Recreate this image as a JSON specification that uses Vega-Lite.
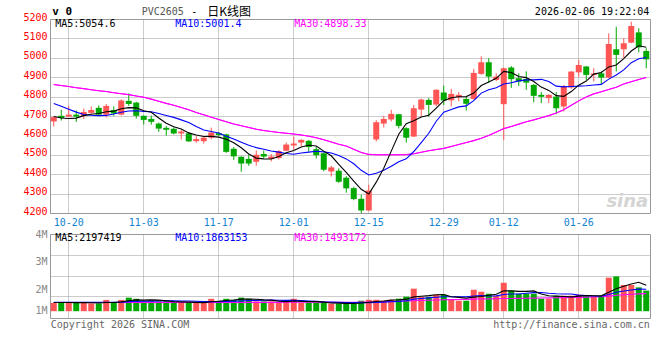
{
"$schema": "https://vega.github.io/schema/vega-lite/v6.json",
"padding": {"left": 22, "top": 5, "right": 0, "bottom": 0},
"background": "white",
"bounds": "flush",
"spacing": 21,
"config": {
 "view": {"stroke": "#999", "strokeWidth": 1},
 "axis": {"gridColor": "#999", "gridDash": [1, 1], "gridWidth": 1, "gridOpacity": 1, "tickSize": 0, "domain": false, "labelFont": "DejaVu Sans Mono", "labelFontSize": 10, "labelOverlap": false},
 "text": {"font": "DejaVu Sans Mono", "fontSize": 10}
},
"datasets": {"k": [
{"d":"2025-10-16","o":4672,"h":4697,"l":4646,"c":4694,"v":0.70,"m5":4697,"m10":4765,"m30":4862,"vm5":0.74,"vm10":0.76,"vm30":0.74},
{"d":"2025-10-17","o":4701,"h":4732,"l":4677,"c":4690,"v":0.78,"m5":4690,"m10":4750,"m30":4857,"vm5":0.74,"vm10":0.76,"vm30":0.74},
{"d":"2025-10-20","o":4697,"h":4752,"l":4695,"c":4707,"v":0.78,"m5":4687,"m10":4735,"m30":4852,"vm5":0.74,"vm10":0.76,"vm30":0.74},
{"d":"2025-10-21","o":4707,"h":4728,"l":4670,"c":4697,"v":0.70,"m5":4689,"m10":4720,"m30":4846,"vm5":0.73,"vm10":0.76,"vm30":0.74},
{"d":"2025-10-22","o":4701,"h":4738,"l":4685,"c":4721,"v":0.70,"m5":4702,"m10":4708,"m30":4841,"vm5":0.73,"vm10":0.76,"vm30":0.74},
{"d":"2025-10-23","o":4716,"h":4749,"l":4712,"c":4731,"v":0.66,"m5":4709,"m10":4704,"m30":4835,"vm5":0.72,"vm10":0.76,"vm30":0.74},
{"d":"2025-10-24","o":4742,"h":4754,"l":4703,"c":4707,"v":0.66,"m5":4713,"m10":4702,"m30":4830,"vm5":0.70,"vm10":0.76,"vm30":0.74},
{"d":"2025-10-27","o":4707,"h":4762,"l":4692,"c":4752,"v":0.96,"m5":4722,"m10":4703,"m30":4826,"vm5":0.74,"vm10":0.76,"vm30":0.74},
{"d":"2025-10-28","o":4731,"h":4749,"l":4701,"c":4713,"v":0.70,"m5":4725,"m10":4710,"m30":4820,"vm5":0.74,"vm10":0.76,"vm30":0.74},
{"d":"2025-10-29","o":4707,"h":4786,"l":4703,"c":4780,"v":0.96,"m5":4737,"m10":4719,"m30":4815,"vm5":0.79,"vm10":0.76,"vm30":0.74},
{"d":"2025-10-30","o":4778,"h":4817,"l":4752,"c":4762,"v":1.15,"m5":4743,"m10":4726,"m30":4810,"vm5":0.89,"vm10":0.81,"vm30":0.74},
{"d":"2025-10-31","o":4769,"h":4773,"l":4687,"c":4701,"v":1.05,"m5":4742,"m10":4727,"m30":4803,"vm5":0.96,"vm10":0.83,"vm30":0.75},
{"d":"2025-11-03","o":4701,"h":4703,"l":4656,"c":4680,"v":0.83,"m5":4727,"m10":4724,"m30":4797,"vm5":0.94,"vm10":0.84,"vm30":0.75},
{"d":"2025-11-04","o":4685,"h":4702,"l":4656,"c":4670,"v":0.83,"m5":4719,"m10":4722,"m30":4787,"vm5":0.96,"vm10":0.85,"vm30":0.75},
{"d":"2025-11-05","o":4661,"h":4666,"l":4618,"c":4635,"v":0.83,"m5":4690,"m10":4713,"m30":4776,"vm5":0.94,"vm10":0.86,"vm30":0.75},
{"d":"2025-11-06","o":4639,"h":4649,"l":4599,"c":4629,"v":0.88,"m5":4663,"m10":4703,"m30":4765,"vm5":0.88,"vm10":0.89,"vm30":0.75},
{"d":"2025-11-07","o":4634,"h":4641,"l":4605,"c":4610,"v":0.70,"m5":4645,"m10":4693,"m30":4755,"vm5":0.81,"vm10":0.89,"vm30":0.75},
{"d":"2025-11-10","o":4610,"h":4627,"l":4579,"c":4620,"v":0.70,"m5":4633,"m10":4680,"m30":4744,"vm5":0.79,"vm10":0.86,"vm30":0.75},
{"d":"2025-11-11","o":4611,"h":4617,"l":4567,"c":4569,"v":0.75,"m5":4613,"m10":4666,"m30":4732,"vm5":0.77,"vm10":0.87,"vm30":0.75},
{"d":"2025-11-12","o":4570,"h":4598,"l":4562,"c":4581,"v":0.70,"m5":4602,"m10":4646,"m30":4718,"vm5":0.75,"vm10":0.84,"vm30":0.75},
{"d":"2025-11-13","o":4570,"h":4594,"l":4558,"c":4588,"v":0.80,"m5":4594,"m10":4628,"m30":4706,"vm5":0.73,"vm10":0.81,"vm30":0.75},
{"d":"2025-11-14","o":4588,"h":4640,"l":4580,"c":4615,"v":1.05,"m5":4595,"m10":4620,"m30":4694,"vm5":0.80,"vm10":0.81,"vm30":0.75},
{"d":"2025-11-17","o":4612,"h":4618,"l":4596,"c":4602,"v":0.88,"m5":4591,"m10":4612,"m30":4682,"vm5":0.84,"vm10":0.81,"vm30":0.75},
{"d":"2025-11-18","o":4605,"h":4608,"l":4510,"c":4515,"v":1.05,"m5":4580,"m10":4596,"m30":4670,"vm5":0.90,"vm10":0.83,"vm30":0.75},
{"d":"2025-11-19","o":4531,"h":4540,"l":4474,"c":4492,"v":0.96,"m5":4562,"m10":4582,"m30":4659,"vm5":0.95,"vm10":0.85,"vm30":0.75},
{"d":"2025-11-20","o":4490,"h":4492,"l":4413,"c":4455,"v":1.15,"m5":4536,"m10":4565,"m30":4650,"vm5":1.02,"vm10":0.87,"vm30":0.75},
{"d":"2025-11-21","o":4479,"h":4500,"l":4443,"c":4455,"v":1.05,"m5":4504,"m10":4549,"m30":4641,"vm5":1.02,"vm10":0.91,"vm30":0.75},
{"d":"2025-11-24","o":4464,"h":4522,"l":4443,"c":4500,"v":0.83,"m5":4483,"m10":4537,"m30":4632,"vm5":1.01,"vm10":0.92,"vm30":0.75},
{"d":"2025-11-25","o":4504,"h":4522,"l":4483,"c":4491,"v":0.83,"m5":4479,"m10":4529,"m30":4625,"vm5":0.96,"vm10":0.93,"vm30":0.75},
{"d":"2025-11-26","o":4479,"h":4504,"l":4466,"c":4491,"v":0.83,"m5":4478,"m10":4520,"m30":4620,"vm5":0.94,"vm10":0.94,"vm30":0.75},
{"d":"2025-11-27","o":4483,"h":4524,"l":4476,"c":4519,"v":0.70,"m5":4491,"m10":4514,"m30":4615,"vm5":0.85,"vm10":0.93,"vm30":0.75},
{"d":"2025-11-28","o":4521,"h":4563,"l":4519,"c":4553,"v":0.88,"m5":4511,"m10":4507,"m30":4611,"vm5":0.81,"vm10":0.92,"vm30":0.76},
{"d":"2025-12-01","o":4548,"h":4594,"l":4526,"c":4558,"v":1.05,"m5":4522,"m10":4503,"m30":4607,"vm5":0.86,"vm10":0.93,"vm30":0.76},
{"d":"2025-12-02","o":4563,"h":4580,"l":4545,"c":4577,"v":0.70,"m5":4540,"m10":4509,"m30":4602,"vm5":0.83,"vm10":0.90,"vm30":0.76},
{"d":"2025-12-03","o":4572,"h":4577,"l":4517,"c":4540,"v":0.70,"m5":4549,"m10":4514,"m30":4596,"vm5":0.81,"vm10":0.87,"vm30":0.76},
{"d":"2025-12-04","o":4529,"h":4540,"l":4481,"c":4498,"v":0.70,"m5":4545,"m10":4518,"m30":4588,"vm5":0.81,"vm10":0.83,"vm30":0.76},
{"d":"2025-12-05","o":4508,"h":4510,"l":4415,"c":4423,"v":0.70,"m5":4519,"m10":4515,"m30":4578,"vm5":0.77,"vm10":0.79,"vm30":0.76},
{"d":"2025-12-08","o":4414,"h":4443,"l":4388,"c":4435,"v":0.64,"m5":4495,"m10":4509,"m30":4566,"vm5":0.69,"vm10":0.77,"vm30":0.76},
{"d":"2025-12-09","o":4418,"h":4430,"l":4355,"c":4361,"v":0.64,"m5":4451,"m10":4496,"m30":4554,"vm5":0.68,"vm10":0.75,"vm30":0.76},
{"d":"2025-12-10","o":4382,"h":4390,"l":4305,"c":4327,"v":0.64,"m5":4409,"m10":4479,"m30":4545,"vm5":0.66,"vm10":0.74,"vm30":0.76},
{"d":"2025-12-11","o":4328,"h":4335,"l":4266,"c":4272,"v":0.64,"m5":4364,"m10":4454,"m30":4528,"vm5":0.65,"vm10":0.73,"vm30":0.76},
{"d":"2025-12-12","o":4273,"h":4294,"l":4196,"c":4213,"v":0.89,"m5":4322,"m10":4420,"m30":4512,"vm5":0.69,"vm10":0.73,"vm30":0.77},
{"d":"2025-12-15","o":4213,"h":4346,"l":4210,"c":4316,"v":0.97,"m5":4298,"m10":4396,"m30":4502,"vm5":0.76,"vm10":0.72,"vm30":0.78},
{"d":"2025-12-16","o":4579,"h":4678,"l":4569,"c":4668,"v":0.97,"m5":4359,"m10":4405,"m30":4500,"vm5":0.82,"vm10":0.75,"vm30":0.79},
{"d":"2025-12-17","o":4661,"h":4701,"l":4641,"c":4685,"v":0.89,"m5":4431,"m10":4420,"m30":4500,"vm5":0.87,"vm10":0.77,"vm30":0.80},
{"d":"2025-12-18","o":4682,"h":4732,"l":4672,"c":4711,"v":0.97,"m5":4519,"m10":4441,"m30":4500,"vm5":0.94,"vm10":0.80,"vm30":0.82},
{"d":"2025-12-19","o":4709,"h":4711,"l":4636,"c":4649,"v":1.06,"m5":4606,"m10":4464,"m30":4500,"vm5":0.97,"vm10":0.83,"vm30":0.84},
{"d":"2025-12-22","o":4637,"h":4642,"l":4563,"c":4588,"v":1.23,"m5":4660,"m10":4479,"m30":4501,"vm5":1.02,"vm10":0.89,"vm30":0.86},
{"d":"2025-12-23","o":4594,"h":4757,"l":4592,"c":4740,"v":1.91,"m5":4675,"m10":4517,"m30":4505,"vm5":1.21,"vm10":1.02,"vm30":0.89},
{"d":"2025-12-24","o":4733,"h":4790,"l":4697,"c":4785,"v":1.20,"m5":4695,"m10":4563,"m30":4513,"vm5":1.27,"vm10":1.07,"vm30":0.91},
{"d":"2025-12-25","o":4783,"h":4792,"l":4697,"c":4757,"v":1.20,"m5":4704,"m10":4611,"m30":4521,"vm5":1.32,"vm10":1.13,"vm30":0.93},
{"d":"2025-12-26","o":4759,"h":4838,"l":4750,"c":4835,"v":1.40,"m5":4741,"m10":4673,"m30":4527,"vm5":1.39,"vm10":1.18,"vm30":0.95},
{"d":"2025-12-29","o":4821,"h":4857,"l":4757,"c":4780,"v":1.40,"m5":4779,"m10":4720,"m30":4533,"vm5":1.42,"vm10":1.22,"vm30":0.97},
{"d":"2025-12-30","o":4781,"h":4840,"l":4749,"c":4814,"v":0.97,"m5":4794,"m10":4734,"m30":4543,"vm5":1.23,"vm10":1.22,"vm30":0.98},
{"d":"2025-12-31","o":4797,"h":4823,"l":4775,"c":4809,"v":0.89,"m5":4799,"m10":4747,"m30":4553,"vm5":1.17,"vm10":1.22,"vm30":0.99},
{"d":"2026-01-05","o":4788,"h":4800,"l":4728,"c":4763,"v":0.89,"m5":4800,"m10":4752,"m30":4563,"vm5":1.11,"vm10":1.22,"vm30":1.00},
{"d":"2026-01-06","o":4788,"h":4943,"l":4785,"c":4922,"v":1.82,"m5":4818,"m10":4779,"m30":4573,"vm5":1.19,"vm10":1.29,"vm30":1.02},
{"d":"2026-01-07","o":4917,"h":5008,"l":4912,"c":4977,"v":1.65,"m5":4857,"m10":4818,"m30":4585,"vm5":1.24,"vm10":1.33,"vm30":1.03},
{"d":"2026-01-08","o":4977,"h":4998,"l":4872,"c":4903,"v":1.48,"m5":4875,"m10":4835,"m30":4600,"vm5":1.35,"vm10":1.29,"vm30":1.04},
{"d":"2026-01-09","o":4886,"h":4920,"l":4880,"c":4903,"v":1.31,"m5":4894,"m10":4846,"m30":4617,"vm5":1.43,"vm10":1.30,"vm30":1.05},
{"d":"2026-01-12","o":4761,"h":4950,"l":4577,"c":4946,"v":2.41,"m5":4930,"m10":4865,"m30":4635,"vm5":1.73,"vm10":1.42,"vm30":1.07},
{"d":"2026-01-13","o":4950,"h":4957,"l":4845,"c":4890,"v":1.74,"m5":4924,"m10":4871,"m30":4646,"vm5":1.72,"vm10":1.46,"vm30":1.08},
{"d":"2026-01-14","o":4895,"h":4920,"l":4855,"c":4878,"v":1.48,"m5":4904,"m10":4881,"m30":4658,"vm5":1.68,"vm10":1.46,"vm30":1.09},
{"d":"2026-01-15","o":4891,"h":4930,"l":4835,"c":4872,"v":1.48,"m5":4898,"m10":4886,"m30":4670,"vm5":1.68,"vm10":1.52,"vm30":1.10},
{"d":"2026-01-16","o":4860,"h":4865,"l":4771,"c":4804,"v":1.48,"m5":4878,"m10":4886,"m30":4680,"vm5":1.72,"vm10":1.57,"vm30":1.11},
{"d":"2026-01-19","o":4809,"h":4823,"l":4766,"c":4799,"v":1.06,"m5":4849,"m10":4889,"m30":4691,"vm5":1.45,"vm10":1.59,"vm30":1.12},
{"d":"2026-01-20","o":4792,"h":4812,"l":4766,"c":4809,"v":1.06,"m5":4832,"m10":4878,"m30":4702,"vm5":1.31,"vm10":1.52,"vm30":1.13},
{"d":"2026-01-21","o":4800,"h":4823,"l":4709,"c":4740,"v":1.31,"m5":4805,"m10":4854,"m30":4715,"vm5":1.28,"vm10":1.48,"vm30":1.14},
{"d":"2026-01-22","o":4749,"h":4860,"l":4723,"c":4855,"v":1.31,"m5":4801,"m10":4850,"m30":4732,"vm5":1.24,"vm10":1.46,"vm30":1.15},
{"d":"2026-01-23","o":4847,"h":4932,"l":4840,"c":4929,"v":1.31,"m5":4826,"m10":4852,"m30":4755,"vm5":1.21,"vm10":1.46,"vm30":1.16},
{"d":"2026-01-26","o":4925,"h":4989,"l":4903,"c":4963,"v":1.40,"m5":4859,"m10":4854,"m30":4778,"vm5":1.28,"vm10":1.36,"vm30":1.17},
{"d":"2026-01-27","o":4955,"h":4958,"l":4886,"c":4912,"v":1.26,"m5":4880,"m10":4856,"m30":4798,"vm5":1.32,"vm10":1.32,"vm30":1.18},
{"d":"2026-01-28","o":4912,"h":4946,"l":4878,"c":4919,"v":1.26,"m5":4916,"m10":4860,"m30":4814,"vm5":1.31,"vm10":1.29,"vm30":1.20},
{"d":"2026-01-29","o":4920,"h":4929,"l":4864,"c":4898,"v":1.26,"m5":4924,"m10":4863,"m30":4825,"vm5":1.30,"vm10":1.27,"vm30":1.22},
{"d":"2026-01-30","o":4898,"h":5126,"l":4895,"c":5071,"v":2.84,"m5":4953,"m10":4890,"m30":4837,"vm5":1.60,"vm10":1.41,"vm30":1.28},
{"d":"2026-02-02","o":5044,"h":5160,"l":4929,"c":5015,"v":2.95,"m5":4963,"m10":4911,"m30":4848,"vm5":1.91,"vm10":1.60,"vm30":1.35},
{"d":"2026-02-03","o":5044,"h":5101,"l":5001,"c":5075,"v":2.22,"m5":4996,"m10":4938,"m30":4865,"vm5":2.11,"vm10":1.71,"vm30":1.40},
{"d":"2026-02-04","o":5078,"h":5186,"l":5075,"c":5164,"v":2.22,"m5":5035,"m10":4975,"m30":4877,"vm5":2.30,"vm10":1.80,"vm30":1.44},
{"d":"2026-02-05","o":5131,"h":5152,"l":5028,"c":5054,"v":2.02,"m5":5062,"m10":4995,"m30":4888,"vm5":2.45,"vm10":1.87,"vm30":1.47},
{"d":"2026-02-06","o":5035,"h":5049,"l":4946,"c":4992,"v":1.75,"m5":5054.6,"m10":5001.4,"m30":4898.33,"vm5":2.197,"vm10":1.863,"vm30":1.493}
]},
"vconcat": [
{
 "width": 600, "height": 194,
 "data": {"name": "k"},
 "encoding": {"x": {"field": "d", "type": "ordinal", "scale": {"paddingInner": 0, "paddingOuter": 0},
   "axis": {"title": null, "values": ["2025-10-20","2025-11-03","2025-11-17","2025-12-01","2025-12-15","2025-12-29","2026-01-12","2026-01-26"], "labelExpr": "substring(datum.value, 5)", "labelColor": "#1084d0", "labelAngle": 0, "labelPadding": 4, "grid": true, "bandPosition": 0.5, "labelOverlap": false}}},
 "layer": [
  {"mark": {"type": "line", "clip": true, "strokeWidth": 1, "color": "#ff00ff"},
   "encoding": {"y": {"field": "m30", "type": "quantitative", "scale": {"domain": [4200, 5200], "nice": false, "zero": false},
      "axis": {"title": null, "orient": "left", "values": [4200,4300,4400,4500,4600,4700,4800,4900,5000,5100,5200], "format": "d", "labelColor": "#f00", "labelPadding": 3, "labelOffset": -2, "grid": true, "labelOverlap": false}}}},
  {"mark": {"type": "rule", "clip": true, "strokeWidth": 1},
   "encoding": {
    "y": {"field": "l", "type": "quantitative", "axis": null},
    "y2": {"field": "h"},
    "color": {"condition": {"test": "datum.c >= datum.o", "value": "#ff5555"}, "value": "#00a800"}}},
  {"mark": {"type": "bar", "clip": true, "width": {"band": 0.8}},
   "encoding": {
    "y": {"field": "o", "type": "quantitative", "axis": null},
    "y2": {"field": "c"},
    "color": {"condition": {"test": "datum.c >= datum.o", "value": "#ff5555"}, "value": "#00a800"}}},
  {"mark": {"type": "line", "clip": true, "strokeWidth": 1.1, "color": "#ff00ff"}, "encoding": {"y": {"field": "m30", "type": "quantitative", "axis": null}}},
  {"mark": {"type": "line", "clip": true, "strokeWidth": 1.1, "color": "#0000ff"}, "encoding": {"y": {"field": "m10", "type": "quantitative", "axis": null}}},
  {"mark": {"type": "line", "clip": true, "strokeWidth": 1.1, "color": "#000000"}, "encoding": {"y": {"field": "m5", "type": "quantitative", "axis": null}}},
  {"data": {"values": [{}]}, "mark": {"type": "text", "text": "sina", "align": "right", "baseline": "bottom", "dx": 2, "dy": -2, "fontSize": 18, "fontStyle": "italic", "fontWeight": "bold", "font": "DejaVu Sans", "color": "#d4d4d4"},
   "encoding": {"x": {"datum": "2026-02-06"}, "y": {"datum": 4200, "axis": null}}},
  {"data": {"values": [{}]}, "mark": {"type": "text", "text": "v 0", "align": "left", "baseline": "middle", "dx": -1.5, "dy": -7, "fontSize": 11, "fontWeight": "bold", "color": "#000"},
   "encoding": {"x": {"datum": "2025-10-16"}, "y": {"datum": 5200, "axis": null}}},
  {"data": {"values": [{}]}, "mark": {"type": "text", "text": "PVC2605", "align": "left", "baseline": "middle", "dx": -2, "dy": -7, "color": "#555"},
   "encoding": {"x": {"datum": "2025-11-03"}, "y": {"datum": 5200, "axis": null}}},
  {"data": {"values": [{}]}, "mark": {"type": "text", "text": "-", "align": "left", "baseline": "middle", "dx": 2.5, "dy": -7, "color": "#000"},
   "encoding": {"x": {"datum": "2025-11-11"}, "y": {"datum": 5200, "axis": null}}},
  {"data": {"values": [{}]}, "mark": {"type": "text", "text": "日K线图", "align": "left", "baseline": "middle", "dx": 3.5, "dy": -7, "font": "Noto Sans CJK SC", "fontSize": 12, "color": "#000"},
   "encoding": {"x": {"datum": "2025-11-13"}, "y": {"datum": 5200, "axis": null}}},
  {"data": {"values": [{}]}, "mark": {"type": "text", "text": "2026-02-06 19:22:04", "align": "right", "baseline": "middle", "dx": 3, "dy": -7, "color": "#000"},
   "encoding": {"x": {"datum": "2026-02-06"}, "y": {"datum": 5200, "axis": null}}},
  {"data": {"values": [{}]}, "mark": {"type": "text", "text": "MA5:5054.6", "align": "left", "baseline": "middle", "dx": 1.5, "dy": 5, "color": "#000"},
   "encoding": {"x": {"datum": "2025-10-16"}, "y": {"datum": 5200, "axis": null}}},
  {"data": {"values": [{}]}, "mark": {"type": "text", "text": "MA10:5001.4", "align": "left", "baseline": "middle", "dx": 1.5, "dy": 5, "color": "#0000ff"},
   "encoding": {"x": {"datum": "2025-11-07"}, "y": {"datum": 5200, "axis": null}}},
  {"data": {"values": [{}]}, "mark": {"type": "text", "text": "MA30:4898.33", "align": "left", "baseline": "middle", "dx": 0.5, "dy": 5, "color": "#ff00ff"},
   "encoding": {"x": {"datum": "2025-12-01"}, "y": {"datum": 5200, "axis": null}}}
 ],
 "resolve": {"axis": {"y": "independent"}}
},
{
 "width": 600, "height": 84,
 "data": {"name": "k"},
 "encoding": {"x": {"field": "d", "type": "ordinal", "scale": {"paddingInner": 0, "paddingOuter": 0},
   "axis": {"title": null, "values": ["2025-10-20","2025-11-03","2025-11-17","2025-12-01","2025-12-15","2025-12-29","2026-01-12","2026-01-26"], "labels": false, "grid": true, "bandPosition": 0.5}}},
 "layer": [
  {"mark": {"type": "bar", "clip": true, "width": {"band": 0.8}},
   "encoding": {
    "y": {"field": "v", "type": "quantitative", "scale": {"domain": [-0.576, 6.54], "nice": false, "zero": false},
      "axis": {"title": null, "orient": "left", "values": [0.1, 1.8, 4.17, 6.5], "labelExpr": "datum.value < 1 ? '1M' : datum.value < 3 ? '2M' : datum.value < 5 ? '3M' : '4M'", "labelColor": "#888", "labelPadding": 3, "grid": false, "labelOverlap": false}},
    "y2": {"datum": 0},
    "color": {"condition": {"test": "datum.c >= datum.o", "value": "#ff5555"}, "value": "#00a800"}}},
  {"mark": {"type": "line", "clip": true, "strokeWidth": 1.1, "color": "#ff00ff"},
   "encoding": {"y": {"field": "vm30", "type": "quantitative",
     "axis": {"title": null, "orient": "right", "values": [1.29, 2.98, 4.76], "labels": false, "grid": true}}}},
  {"mark": {"type": "line", "clip": true, "strokeWidth": 1.1, "color": "#0000ff"}, "encoding": {"y": {"field": "vm10", "type": "quantitative", "axis": null}}},
  {"mark": {"type": "line", "clip": true, "strokeWidth": 1.1, "color": "#000000"}, "encoding": {"y": {"field": "vm5", "type": "quantitative", "axis": null}}},
  {"data": {"values": [{}]}, "mark": {"type": "text", "text": "MA5:2197419", "align": "left", "baseline": "middle", "dx": 1.5, "dy": 4, "color": "#000"},
   "encoding": {"x": {"datum": "2025-10-16"}, "y": {"datum": 6.54, "axis": null}}},
  {"data": {"values": [{}]}, "mark": {"type": "text", "text": "MA10:1863153", "align": "left", "baseline": "middle", "dx": 1.5, "dy": 4, "color": "#0000ff"},
   "encoding": {"x": {"datum": "2025-11-07"}, "y": {"datum": 6.54, "axis": null}}},
  {"data": {"values": [{}]}, "mark": {"type": "text", "text": "MA30:1493172", "align": "left", "baseline": "middle", "dx": 0.5, "dy": 4, "color": "#ff00ff"},
   "encoding": {"x": {"datum": "2025-12-01"}, "y": {"datum": 6.54, "axis": null}}},
  {"data": {"values": [{}]}, "mark": {"type": "text", "text": "Copyright 2026 SINA.COM", "align": "left", "baseline": "middle", "dx": -3, "dy": 6.5, "color": "#666"},
   "encoding": {"x": {"datum": "2025-10-16"}, "y": {"datum": -0.576, "axis": null}}},
  {"data": {"values": [{}]}, "mark": {"type": "text", "text": "http://finance.sina.com.cn", "align": "right", "baseline": "middle", "dx": 3.5, "dy": 7, "color": "#666"},
   "encoding": {"x": {"datum": "2026-02-06"}, "y": {"datum": -0.576, "axis": null}}}
 ],
 "resolve": {"axis": {"y": "independent"}}
}
]
}
